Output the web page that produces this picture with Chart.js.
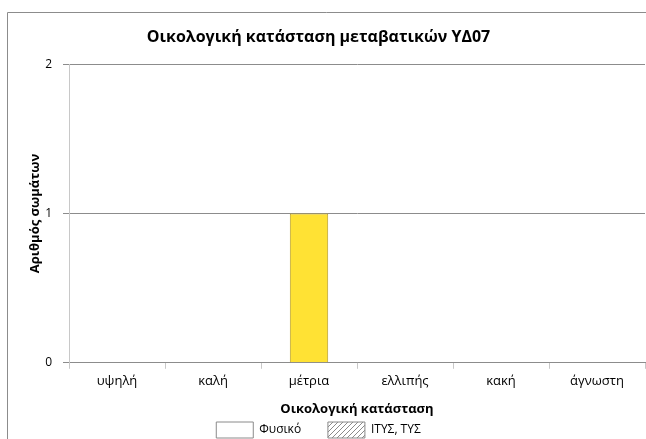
<!DOCTYPE html>
<html>
<head>
<meta charset="utf-8">
<script src="https://cdn.jsdelivr.net/npm/chart.js@4.4.1/dist/chart.umd.min.js"></script>
<style>
html,body{margin:0;padding:0;background:#fff;}
#wrap{position:relative;width:646px;height:439px;}
</style>
</head>
<body>
<div id="wrap"><canvas id="c" width="646" height="439"></canvas></div>
<script>
const chartTitle = 'Οικολογική κατάσταση μεταβατικών ΥΔ07';
const categories = ['υψηλή', 'καλή', 'μέτρια', 'ελλιπής', 'κακή', 'άγνωστη'];
const seriesNames = ['Φυσικό', 'ΙΤΥΣ, ΤΥΣ'];
const naturalValues = [0, 0, 1, 0, 0, 0];
const modifiedValues = [0, 0, 0, 0, 0, 0];
const yTicks = [0, 1, 2];
const xTitle = 'Οικολογική κατάσταση';
const yTitle = 'Αριθμός σωμάτων';

const FONT = 'Open Sans';
const stateColors = ['#3D6FD0', '#44A845', '#FFE234', '#F39A2B', '#E0312B', '#A0A0A0'];

function hatch() {
  const p = document.createElement('canvas');
  p.width = 5; p.height = 5;
  const g = p.getContext('2d');
  g.fillStyle = '#fff'; g.fillRect(0, 0, 5, 5);
  g.strokeStyle = '#8a8a8a'; g.lineWidth = 1;
  g.beginPath(); g.moveTo(0, 5); g.lineTo(5, 0); g.stroke();
  g.beginPath(); g.moveTo(-1, 1); g.lineTo(1, -1); g.stroke();
  g.beginPath(); g.moveTo(4, 6); g.lineTo(6, 4); g.stroke();
  return document.getElementById('c').getContext('2d').createPattern(p, 'repeat');
}
const hatchPattern = hatch();

const frame = {
  id: 'frame',
  beforeDraw(chart) {
    const ctx = chart.ctx;
    ctx.save();
    ctx.strokeStyle = '#8c8c8c';
    ctx.lineWidth = 1;
    ctx.beginPath();
    ctx.moveTo(7.5, 439);
    ctx.lineTo(7.5, 12.5);
    ctx.lineTo(646, 12.5);
    ctx.stroke();
    ctx.restore();
  }
};

// the reference chart is wider than the crop: centre title/legend on the full chart
const recenter = {
  id: 'recenter',
  afterLayout(chart) {
    const shift = 8;
    if (chart.titleBlock) { chart.titleBlock.left -= shift; chart.titleBlock.right -= shift; }
    if (chart.legend) { chart.legend.left -= shift; chart.legend.right -= shift; }
  }
};

const GAP = '\u00a0\u00a0\u00a0\u00a0\u00a0\u00a0\u00a0';

new Chart(document.getElementById('c'), {
  type: 'bar',
  data: {
    labels: categories,
    datasets: [
      {
        label: seriesNames[0],
        data: naturalValues,
        backgroundColor: stateColors,
        borderColor: '#B59C2A',
        borderWidth: 1,
        categoryPercentage: 0.8,
        barPercentage: 0.5
      },
      {
        label: seriesNames[1],
        data: modifiedValues,
        backgroundColor: hatchPattern,
        borderColor: '#8a8a8a',
        borderWidth: 1,
        categoryPercentage: 0.8,
        barPercentage: 0.5
      }
    ]
  },
  options: {
    responsive: false,
    animation: false,
    devicePixelRatio: 1,
    layout: { padding: { left: 8, right: 1, top: 0, bottom: 0 } },
    plugins: {
      title: {
        display: true,
        text: chartTitle,
        color: '#000',
        font: { family: FONT, size: 16, weight: 'bold' },
        padding: { top: 28, bottom: 17 }
      },
      legend: {
        position: 'bottom',
        maxHeight: 22,
        labels: {
          color: '#000',
          font: { family: FONT, size: 12 },
          boxWidth: 37,
          boxHeight: 16,
          padding: 5,
          generateLabels(chart) {
            return [
              { text: seriesNames[0] + GAP, fillStyle: '#ffffff', strokeStyle: '#8a8a8a', lineWidth: 1, datasetIndex: 0, fontColor: '#000' },
              { text: seriesNames[1], fillStyle: hatchPattern, strokeStyle: '#8a8a8a', lineWidth: 1, datasetIndex: 1, fontColor: '#000' }
            ];
          }
        }
      },
      tooltip: { enabled: false }
    },
    scales: {
      x: {
        stacked: true,
        offset: true,
        grid: { display: true, drawOnChartArea: false, drawTicks: true, tickLength: 6, color: '#c8c8c8', offset: true },
        border: { display: true, color: '#8c8c8c' },
        ticks: { color: '#000', font: { family: FONT, size: 13 }, padding: 5, maxRotation: 0 },
        title: { display: true, text: xTitle, color: '#000', font: { family: FONT, size: 13, weight: 'bold' }, padding: { top: 7, bottom: 0 } }
      },
      y: {
        stacked: true,
        min: 0,
        max: 2,
        afterBuildTicks(scale) { scale.ticks = yTicks.map(v => ({ value: v })); },
        grid: { color: '#8c8c8c', tickLength: 6, drawTicks: true },
        border: { display: true, color: '#c8c8c8' },
        ticks: { color: '#000', font: { family: FONT, size: 12 }, padding: 11 },
        title: { display: true, text: yTitle, color: '#000', font: { family: FONT, size: 13, weight: 'bold' }, padding: { top: 19, bottom: 4 } },
        afterFit(scale) { scale.width = 61; }
      }
    }
  },
  plugins: [frame, recenter]
});
</script>
</body>
</html>
